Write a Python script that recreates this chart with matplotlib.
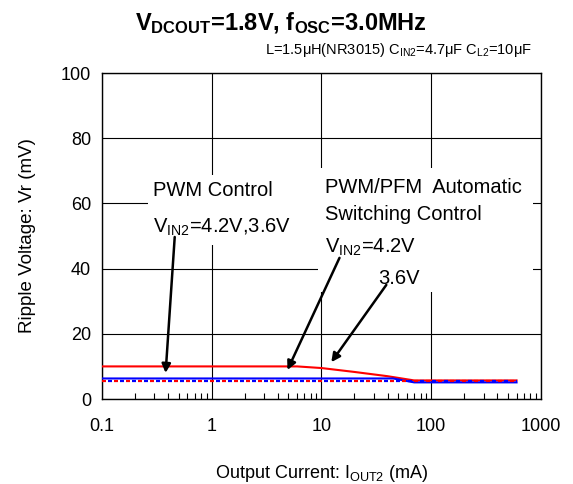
import matplotlib
matplotlib.use("Agg")
import matplotlib.pyplot as plt
from matplotlib.patches import Rectangle

plt.rcParams['font.family'] = ['Liberation Sans', 'DejaVu Sans']
plt.rcParams['mathtext.fontset'] = 'custom'
plt.rcParams['mathtext.rm'] = 'Liberation Sans'
plt.rcParams['mathtext.it'] = 'Liberation Sans:italic'
plt.rcParams['mathtext.bf'] = 'Liberation Sans:bold'

# Data (mA, mV)
auto42_x = [0.1, 6, 10, 20, 40, 70, 600]
auto42_y = [10.0, 10.0, 9.5, 8.3, 7.0, 5.7, 5.7]
auto36_x = [0.1, 45, 70, 600]
auto36_y = [6.3, 6.3, 5.1, 5.1]
pwm_x = [0.1, 600]
pwm42_y = [5.6, 5.6]
pwm36_y = [5.6, 5.6]

fig = plt.figure(figsize=(5.73, 4.84), dpi=100)
ax = fig.add_axes([0.178, 0.1756, 0.766, 0.6735])

ax.set_xscale('log')
ax.set_xlim(0.1, 1000)
ax.set_ylim(0, 100)
ax.set_yticks([0, 20, 40, 60, 80, 100])
ax.set_xticks([0.1, 1, 10, 100, 1000])
ax.set_xticklabels(['0.1', '1', '10', '100', '1000'])
ax.grid(True, which='major', color='black', lw=0.8)
ax.tick_params(which='major', length=0, labelsize=13, pad=14)
ax.tick_params(axis='x', which='minor', direction='in', length=4, width=0.8)
ax.tick_params(axis='y', pad=8)
for s in ax.spines.values():
    s.set_linewidth(1.0)

# white boxes behind the annotation texts
ax.add_patch(Rectangle((0.105, 0.472), 0.387, 0.215, transform=ax.transAxes,
                       facecolor='white', edgecolor='none', zorder=2.5))
ax.add_patch(Rectangle((0.492, 0.328), 0.49, 0.381, transform=ax.transAxes,
                       facecolor='white', edgecolor='none', zorder=2.5))

ax.plot(auto42_x, auto42_y, color='#ff0000', lw=1.5, zorder=3)
ax.plot(auto36_x, auto36_y, color='#0000ff', lw=1.5, zorder=3)
ax.plot(pwm_x, pwm36_y, color='#0000ff', lw=1.6, ls=(2.7, (1.8, 3.6)), zorder=4)
ax.plot(pwm_x, pwm42_y, color='#ff0000', lw=1.6, ls=(0, (1.8, 3.6)), zorder=4)

tkw = dict(fontsize=14.5, transform=ax.transAxes, zorder=5, va='center', ha='left')
ax.text(0.116, 0.640, 'PWM Control', **tkw)
ax.text(0.116, 0.528, r'V$_{\mathrm{IN2}}$=4.2V,3.6V', **tkw)
ax.text(0.508, 0.650, 'PWM/PFM  Automatic', **tkw)
ax.text(0.508, 0.567, 'Switching Control', **tkw)
ax.text(0.508, 0.465, r'V$_{\mathrm{IN2}}$=4.2V', **tkw)
ax.text(0.630, 0.370, '3.6V', **tkw)

akw = dict(arrowstyle='-|>', color='black', lw=1.8, mutation_scale=13,
           shrinkA=0, shrinkB=0)
ax.annotate('', xy=(0.38, 8.0), xytext=(0.46, 49.7), arrowprops=akw, zorder=6)
ax.annotate('', xy=(4.9, 8.9), xytext=(14.6, 43.3), arrowprops=akw, zorder=6)
ax.annotate('', xy=(12.3, 11.3), xytext=(39, 35), arrowprops=akw, zorder=6)

ax.set_xlabel(r'Output Current: I$_{\mathrm{OUT2}}$ (mA)', fontsize=13, labelpad=20)
ax.set_ylabel('Ripple Voltage: Vr (mV)', fontsize=13.5, labelpad=18)

fig.text(0.49, 0.953, r'$\mathbf{V_{DCOUT}}$=1.8V, $\mathbf{f_{OSC}}$=3.0MHz',
         fontsize=17, fontweight='bold', ha='center', va='center')
fig.text(0.928, 0.897, r'L=1.5μH(NR3015) C$_{\mathrm{IN2}}$=4.7μF C$_{\mathrm{L2}}$=10μF',
         fontsize=10.5, ha='right', va='center')

fig.savefig('out.png', dpi=100)
